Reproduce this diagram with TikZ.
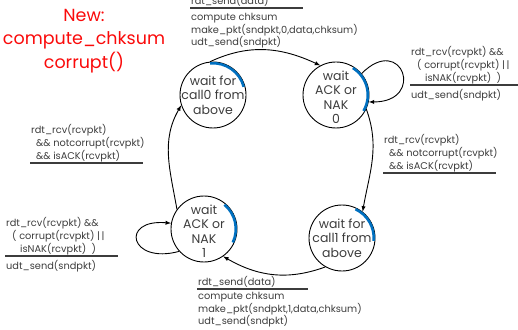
\documentclass[tikz,border=0pt]{standalone}
\usepackage{fontspec}
\setmainfont{Poppins}
\usepackage{tikz}
\usetikzlibrary{shapes, arrows}

\definecolor{ink}{RGB}{60,60,60}
\definecolor{arcblue}{RGB}{0,112,192}
\definecolor{newred}{RGB}{250,10,10}

\begin{document}
\begin{tikzpicture}[x=1pt, y=1pt,
        main/.style = {draw, circle, line width=0.9pt, minimum size=66pt, inner sep=0pt},
        st/.style = {align=center, text=ink, inner sep=0pt, font=\fontsize{12.5}{14.5}\selectfont},
        lab/.style = {align=left, text=ink, inner sep=1pt, font=\fontsize{9.8}{11}\selectfont},
        bar/.style = {line width=1.6pt, draw=ink},
        hl/.style = {line width=2.6pt, draw=arcblue},
        go/.style = {-latex, line width=0.9pt}]
                \useasboundingbox (0,0) rectangle (518,329);

                \node[text=newred, align=center, font=\fontsize{17.5}{23.5}\selectfont] at (84, 288) (new) {New:\\compute\_chksum\\corrupt()};

                \node[main, label={[st, name=W0t]center:{wait for\\call0 from\\above}}] at (213, 234) (W0) {};
                \node[main, label={[st, name=A0t, yshift=-2pt]center:{wait\\ACK or\\NAK\\0}}] at (336, 234) (A0) {};
                \node[main, label={[st, name=W1t]center:{wait for\\call1 from\\above}}] at (342, 91) (W1) {};
                \node[main, label={[st, name=A1t, yshift=-2pt]center:{wait\\ACK or\\NAK\\1}}] at (204, 100) (A1) {};

                \draw[hl] (W0.center) ++(95:31.8) arc[start angle=95, end angle=15, radius=31.8];
                \draw[hl] (A0.center) ++(58:31.8) arc[start angle=58, end angle=-30, radius=31.8];
                \draw[hl] (W1.center) ++(65:31.8) arc[start angle=65, end angle=-5, radius=31.8];
                \draw[hl] (A1.center) ++(50:31.8) arc[start angle=50, end angle=-25, radius=31.8];

                \draw [go] (W0.95) to[out=25, in=155] (A0.118);
                \draw [go] (A0.40) to[out=45, in=0, looseness=5] (A0.-12);
                \draw [go] (A0.-25) to[out=-70, in=80] (W1.52);
                \draw [go] (W1.240) to[out=200, in=-30] (A1.-55);
                \draw [go] (A1.222) to[out=195, in=175, looseness=4.5] (A1.170);
                \draw [go] (A1.144) to[out=100, in=240] (W0.198);

                \node[lab, anchor=south west] at (190, 321) (e1) {rdt\_send(data)};
                \draw[bar] (e1.south west) -- ++(113, 0);
                \node[lab, anchor=north west] at ([yshift=-4pt]e1.south west) (a1) {compute chksum\\make\_pkt(sndpkt,0,data,chksum)\\udt\_send(sndpkt)};

                \node[lab, anchor=south west] at (410, 244) (e2) {rdt\_rcv(rcvpkt) \&\&\\\hspace{6pt}( corrupt(rcvpkt) |\,|\\\hspace{14pt}isNAK(rcvpkt) \ )};
                \draw[bar] (e2.south west) -- ++(110, 0);
                \node[lab, anchor=north west] at ([yshift=-3pt]e2.south west) (a2) {udt\_send(sndpkt)};

                \node[lab, anchor=south west] at (383, 156) (e3) {rdt\_rcv(rcvpkt)\\\hspace{5pt}\&\& notcorrupt(rcvpkt)\\\hspace{5pt}\&\& isACK(rcvpkt)};
                \draw[bar] (e3.south west) -- ++(113, 0);

                \node[lab, anchor=south west] at (197, 40) (e4) {rdt\_send(data)};
                \draw[bar] (e4.south west) -- ++(111, 0);
                \node[lab, anchor=north west] at ([yshift=-2pt]e4.south west) (a4) {compute chksum\\make\_pkt(sndpkt,1,data,chksum)\\udt\_send(sndpkt)};

                \node[lab, anchor=south west] at (5, 73) (e5) {rdt\_rcv(rcvpkt) \&\&\\\hspace{6pt}( corrupt(rcvpkt) |\,|\\\hspace{14pt}isNAK(rcvpkt) \ )};
                \draw[bar] (e5.south west) -- ++(113, 0);
                \node[lab, anchor=north west] at ([yshift=-3pt]e5.south west) (a5) {udt\_send(sndpkt)};

                \node[lab, anchor=south west] at (30, 166) (e6) {rdt\_rcv(rcvpkt)\\\hspace{5pt}\&\& notcorrupt(rcvpkt)\\\hspace{5pt}\&\& isACK(rcvpkt)};
                \draw[bar] (e6.south west) -- ++(113, 0);
\end{tikzpicture}
\end{document}
